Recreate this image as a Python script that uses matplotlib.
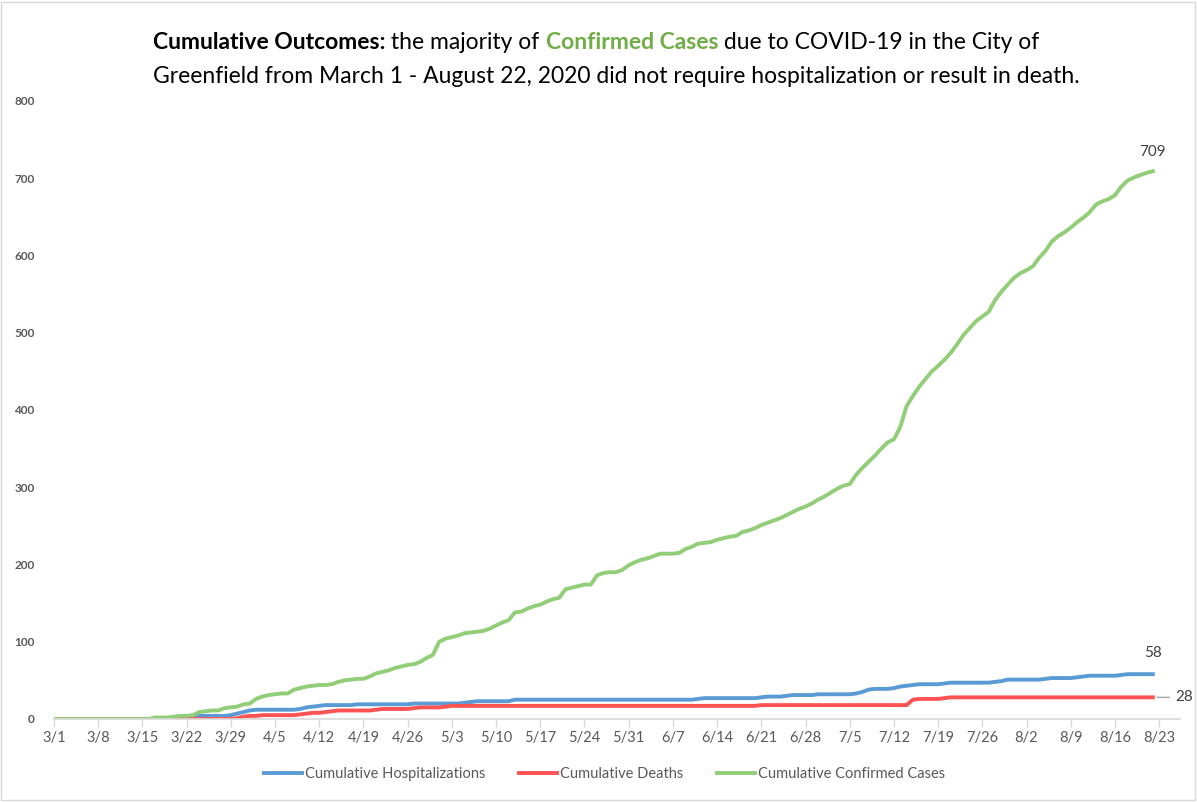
import matplotlib
matplotlib.use('Agg')
import matplotlib.pyplot as plt
from matplotlib.patches import Rectangle

plt.rcParams['font.family'] = ['Lato', 'DejaVu Sans']

# one row per week, starting 3/1/2020 (day 0) through 8/22 (day 174)
confirmed = [
    0, 0, 0, 0, 0, 0, 0,
    0, 0, 0, 0, 0, 0, 0,
    0, 0, 2, 2, 2, 3, 4,
    4, 5, 9, 10, 11, 11, 14,
    15, 16, 19, 20, 26, 29, 31,
    32, 33, 33, 38, 40, 42, 43,
    44, 44, 45, 48, 50, 51, 52,
    52, 55, 59, 61, 63, 66, 68,
    70, 71, 74, 79, 83, 100, 104,
    106, 108, 111, 112, 113, 114, 117,
    121, 125, 128, 138, 139, 143, 146,
    148, 152, 155, 157, 168, 170, 172,
    174, 174, 186, 189, 190, 190, 193,
    199, 203, 206, 208, 211, 214, 214,
    214, 215, 220, 223, 227, 228, 229,
    232, 234, 236, 237, 242, 244, 247,
    251, 254, 257, 260, 264, 268, 272,
    275, 279, 284, 288, 293, 298, 302,
    304, 316, 325, 333, 341, 350, 358,
    362, 378, 405, 418, 430, 440, 450,
    457, 465, 474, 485, 497, 506, 515,
    521, 527, 542, 553, 562, 571, 577,
    581, 586, 597, 606, 618, 625, 630,
    636, 643, 649, 656, 666, 670, 673,
    678, 689, 697, 701, 704, 707, 709,
]
hospitalizations = [
    0, 0, 0, 0, 0, 0, 0,
    0, 0, 0, 0, 0, 0, 0,
    0, 0, 0, 0, 0, 0, 0,
    0, 3, 4, 4, 4, 4, 4,
    5, 7, 9, 11, 12, 12, 12,
    12, 12, 12, 12, 13, 15, 16,
    17, 18, 18, 18, 18, 18, 19,
    19, 19, 19, 19, 19, 19, 19,
    19, 20, 20, 20, 20, 20, 20,
    20, 20, 21, 22, 23, 23, 23,
    23, 23, 23, 25, 25, 25, 25,
    25, 25, 25, 25, 25, 25, 25,
    25, 25, 25, 25, 25, 25, 25,
    25, 25, 25, 25, 25, 25, 25,
    25, 25, 25, 25, 26, 27, 27,
    27, 27, 27, 27, 27, 27, 27,
    28, 29, 29, 29, 30, 31, 31,
    31, 31, 32, 32, 32, 32, 32,
    32, 33, 35, 38, 39, 39, 39,
    40, 42, 43, 44, 45, 45, 45,
    45, 46, 47, 47, 47, 47, 47,
    47, 47, 48, 49, 51, 51, 51,
    51, 51, 51, 52, 53, 53, 53,
    53, 54, 55, 56, 56, 56, 56,
    56, 57, 58, 58, 58, 58, 58,
]
deaths = [
    0, 0, 0, 0, 0, 0, 0,
    0, 0, 0, 0, 0, 0, 0,
    0, 0, 0, 0, 0, 0, 0,
    0, 0, 0, 0, 0, 0, 0,
    0, 1, 3, 4, 4, 5, 5,
    5, 5, 5, 5, 6, 7, 8,
    8, 9, 10, 11, 11, 11, 11,
    11, 11, 12, 13, 13, 13, 13,
    13, 14, 15, 15, 15, 15, 16,
    17, 17, 17, 17, 17, 17, 17,
    17, 17, 17, 17, 17, 17, 17,
    17, 17, 17, 17, 17, 17, 17,
    17, 17, 17, 17, 17, 17, 17,
    17, 17, 17, 17, 17, 17, 17,
    17, 17, 17, 17, 17, 17, 17,
    17, 17, 17, 17, 17, 17, 17,
    18, 18, 18, 18, 18, 18, 18,
    18, 18, 18, 18, 18, 18, 18,
    18, 18, 18, 18, 18, 18, 18,
    18, 18, 18, 25, 26, 26, 26,
    26, 27, 28, 28, 28, 28, 28,
    28, 28, 28, 28, 28, 28, 28,
    28, 28, 28, 28, 28, 28, 28,
    28, 28, 28, 28, 28, 28, 28,
    28, 28, 28, 28, 28, 28, 28,
]
tick_labels = ['3/1', '3/8', '3/15', '3/22', '3/29', '4/5', '4/12', '4/19', '4/26',
               '5/3', '5/10', '5/17', '5/24', '5/31', '6/7', '6/14', '6/21', '6/28',
               '7/5', '7/12', '7/19', '7/26', '8/2', '8/9', '8/16', '8/23']

days = list(range(len(confirmed)))
gray = '#595959'

fig = plt.figure(figsize=(11.97, 8.02), dpi=100)
ax = fig.add_axes([0.0451, 0.1035, 0.9407, 0.7706])

ax.plot(days, hospitalizations, color='#5B9BD5', lw=2.8, label='Cumulative Hospitalizations')
ax.plot(days, deaths, color='#FF5252', lw=2.8, label='Cumulative Deaths')
ax.plot(days, confirmed, color='#92CD78', lw=2.8, label='Cumulative Confirmed Cases')

ax.set_xlim(0, 178.3)
ax.set_ylim(0, 800)
ax.set_yticks(range(0, 801, 100))
ax.set_xticks([7 * i for i in range(len(tick_labels))])
ax.set_xticklabels(tick_labels)

for side in ['top', 'right', 'left']:
    ax.spines[side].set_visible(False)
ax.spines['bottom'].set_color('#D9D9D9')
ax.spines['bottom'].set_linewidth(1.2)
ax.tick_params(axis='x', length=6, width=1, color='#D9D9D9', labelsize=10.5, labelcolor=gray, pad=3)
ax.tick_params(axis='y', length=0, labelsize=8.5, labelcolor=gray, pad=14)
for lab in ax.get_yticklabels():
    lab.set_fontweight('bold')

# end-of-line labels
last = days[-1]
ax.annotate(str(confirmed[-1]), (last, confirmed[-1]), xytext=(0, 9), textcoords='offset points',
            ha='center', va='bottom', fontsize=11, color='#404040')
ax.annotate(str(hospitalizations[-1]), (last, hospitalizations[-1]), xytext=(0, 10), textcoords='offset points',
            ha='center', va='bottom', fontsize=11, color='#404040')
ax.annotate(str(deaths[-1]), (last, deaths[-1]), xytext=(16, 0), textcoords='offset points',
            ha='left', va='center', fontsize=11, color='#404040',
            arrowprops=dict(arrowstyle='-', color='#A6A6A6', lw=1, shrinkA=2, shrinkB=3))

fig.legend(loc='center', bbox_to_anchor=(0.505, 0.035), ncol=3, frameon=False,
           fontsize=10.5, labelcolor=gray, handlelength=2.6, handletextpad=0.2, columnspacing=2.3)

# title with mixed styling
renderer = fig.canvas.get_renderer()
W = fig.bbox.width


def rich_line(x, y, parts):
    for s, props in parts:
        t = fig.text(x, y, s, fontsize=16.5, va='baseline', ha='left', **props)
        bb = t.get_window_extent(renderer=renderer)
        x += bb.width / W


rich_line(153 / 1197, 1 - 49 / 802, [
    ('Cumulative Outcomes:', dict(fontweight='bold', color='black')),
    (' the majority of ', dict(color='black')),
    ('Confirmed Cases', dict(fontweight='bold', color='#70AD47')),
    (' due to COVID-19 in the City of', dict(color='black')),
])
rich_line(153 / 1197, 1 - 83 / 802, [
    ('Greenfield from March 1 - August 22, 2020 did not require hospitalization or result in death.',
     dict(color='black')),
])

fig.patches.append(Rectangle((0.001, 0.002), 0.997, 0.996, transform=fig.transFigure,
                             fill=False, edgecolor='#D9D9D9', lw=1))

fig.savefig('out.png', dpi=100)
